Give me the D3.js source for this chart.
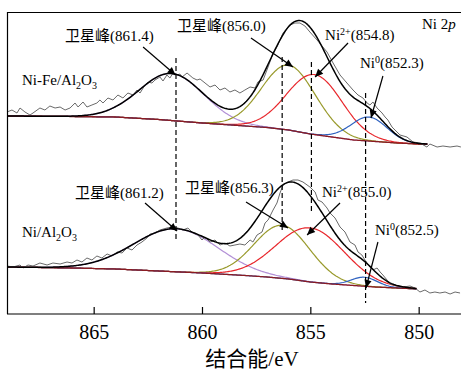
<!DOCTYPE html>
<html><head><meta charset="utf-8">
<script src="https://cdn.jsdelivr.net/npm/d3@7"></script>
<style>
body{margin:0;background:#fff;}
svg{display:block;font-family:"Liberation Serif","Times New Roman","Noto Sans CJK SC",serif;}
</style></head><body>
<svg id="c" width="461" height="372"></svg>
<script>
// ---------------- data ----------------
const xTicks = [865, 860, 855, 850];
const xLabel = "结合能/eV";

// Shirley backgrounds (energy eV, intensity a.u.)
const bgEnergy = [869, 866, 864, 862, 860, 858, 857, 856, 855, 854, 853, 852, 851, 850, 848];
const bgTop    = [198, 197.5, 197, 194.5, 191, 188, 186.5, 184, 180, 177, 174, 172.5, 171, 170, 169];
const bgBottom = [47, 46, 45, 43, 41, 38.5, 37, 35, 32, 30, 28.5, 27, 26, 25, 24];

// fitted components: satellite(high), satellite, Ni2+, Ni0
const centersTop    = [861.4, 856.0, 854.8, 852.3];
const heightsTop    = [47, 65, 60, 24];
const sigmasTop     = [1.49, 1.24, 1.27, 0.84];
const centersBottom = [861.2, 856.3, 855.0, 852.5];
const heightsBottom = [43, 53, 54, 9];
const sigmasBottom  = [1.94, 1.29, 1.57, 0.60];
const fitRangeTop    = [869, 849.6];
const fitRangeBottom = [869, 850.1];

// reference lines (energy, top intensity, bottom intensity)
const dashEnergy = [861.2, 856.3, 854.95, 852.45];
const dashFrom   = [256, 257, 252, 221];
const dashTo     = [72, 84, 101, 11];

// raw spectra [energy, intensity]
const rawTop = [[869.00,202],[868.77,204],[868.54,201],[868.40,206],[868.17,202],[867.94,199],[867.80,201],[867.48,206],[867.25,204],[867.02,208],[866.78,206],[866.55,207],[866.32,204],[866.09,206],[865.86,211],[865.72,207],[865.49,212],[865.31,207],[865.08,209],[864.85,211],[864.71,214],[864.57,211],[864.34,216],[864.11,214],[863.88,219],[863.65,216],[863.42,221],[863.18,219],[863.00,224],[862.86,221],[862.63,229],[862.49,232],[862.31,231],[862.17,234],[861.94,237],[861.80,233],[861.62,239],[861.48,236],[861.34,241],[861.15,239],[861.02,240],[860.92,237],[860.69,241],[860.42,236],[860.23,234],[860.09,235],[859.86,231],[859.63,227],[859.40,229],[859.17,224],[858.94,226],[858.71,222],[858.48,224],[858.25,221],[858.02,224],[857.78,227],[857.55,226],[857.42,232],[857.18,234],[856.95,247],[856.72,261],[856.54,267],[856.40,274],[856.26,281],[855.94,289],[855.71,291],[855.48,291],[855.25,288],[855.02,282],[854.69,274],[854.23,262],[853.95,251],[853.63,239],[853.31,231],[853.03,224],[852.80,219],[852.57,216],[852.38,211],[852.25,209],[852.11,212],[851.92,206],[851.69,201],[851.55,197],[851.42,194],[851.23,187],[850.86,179],[850.54,177],[850.26,172],[849.94,171],[849.62,167],[849.48,170],[849.15,167],[848.88,168],[848.55,167],[848.23,168],[848.05,167]];
const rawBottom = [[869.00,48],[868.72,47],[868.40,49],[868.26,46],[868.03,49],[867.80,48],[867.48,51],[867.15,49],[866.88,51],[866.55,50],[866.23,52],[866.00,51],[865.77,54],[865.54,52],[865.31,56],[865.08,54],[864.85,58],[864.62,56],[864.38,60],[864.15,58],[863.92,62],[863.69,61],[863.46,66],[863.23,64],[863.00,69],[862.77,72],[862.54,76],[862.40,80],[862.17,81],[861.94,84],[861.62,86],[861.34,87],[861.11,86],[860.88,84],[860.65,86],[860.42,81],[860.18,79],[860.00,74],[859.86,77],[859.63,72],[859.40,74],[859.17,69],[858.94,71],[858.71,68],[858.48,69],[858.25,70],[858.02,69],[857.78,74],[857.65,72],[857.46,79],[857.23,82],[857.09,91],[856.95,94],[856.72,104],[856.54,111],[856.40,121],[856.26,129],[856.03,132],[855.80,134],[855.57,134],[855.34,132],[855.02,127],[854.78,122],[854.65,114],[854.46,112],[854.23,106],[854.09,101],[853.86,96],[853.63,87],[853.40,82],[853.17,72],[852.94,69],[852.80,62],[852.62,59],[852.48,54],[852.25,47],[852.11,44],[851.92,46],[851.78,42],[851.65,39],[851.46,34],[851.32,30],[851.00,28],[850.72,27],[850.40,28],[850.17,26],[849.94,22],[849.71,24],[849.48,21],[849.25,22],[849.02,21],[848.78,22],[848.55,20],[848.32,22],[848.09,21]];

// annotations (label parts, label anchor [E,I], arrow from [E,I] to [E,I])
const annotations = [
  {parts:[["卫星峰(861.4)"]], at:[866.32,273], from:[862.72,267], to:[861.22,239]},
  {parts:[["卫星峰(856.0)"]], at:[861.15,283], from:[857.74,276], to:[855.80,247]},
  {parts:[["Ni"],["2+","sup"],["(854.8)"]], at:[854.32,274], from:[853.26,271], to:[854.78,237]},
  {parts:[["Ni"],["0","sup"],["(852.3)"]], at:[852.71,246], from:[851.65,238], to:[852.20,196]},
  {parts:[["卫星峰(861.2)"]], at:[865.86,116], from:[862.63,111], to:[861.15,83]},
  {parts:[["卫星峰(856.3)"]], at:[860.78,121], from:[857.97,112], to:[856.03,86]},
  {parts:[["Ni"],["2+","sup"],["(855.0)"]], at:[854.46,117], from:[853.63,111], to:[855.15,79]},
  {parts:[["Ni"],["0","sup"],["(852.5)"]], at:[852.02,79], from:[851.88,72], to:[852.43,26]},
  {parts:[["Ni-Fe/Al"],["2","sub"],["O"],["3","sub"]], at:[868.31,229]},
  {parts:[["Ni/Al"],["2","sub"],["O"],["3","sub"]], at:[868.31,77]},
  {parts:[["Ni 2"],["p","it"]], at:[849.85,285]}
];

// ---------------- drawing ----------------
const svg = d3.select("#c");
const x = d3.scaleLinear().domain([869, 848]).range([7, 462]);
const y = d3.scaleLinear().domain([0, 302]).range([314, 12]);
const compColors = ["#b28fd6", "#999a2c", "#e8262b", "#2f62c0"];

const defs = svg.append("defs");
defs.append("clipPath").attr("id","clip").append("rect")
  .attr("x",7).attr("y",12).attr("width",455).attr("height",302);
defs.append("marker").attr("id","ah").attr("viewBox","0 0 10 10")
  .attr("refX",10).attr("refY",5).attr("markerWidth",10).attr("markerHeight",8)
  .attr("markerUnits","userSpaceOnUse").attr("orient","auto")
  .append("path").attr("d","M0,0.5 L10,5 L0,9.5 Z").attr("fill","#000");

const plot = svg.append("g").attr("clip-path","url(#clip)");
const line = d3.line().x(d => x(d[0])).y(d => y(d[1]));

function gauss(E, c, h, s){ return h*Math.exp(-((E-c)*(E-c))/(2*s*s)); }

function drawPanel(bgI, centers, heights, sigmas, fitRange, raw){
  const bg = d3.scaleLinear().domain(bgEnergy.slice().reverse()).range(bgI.slice().reverse());
  const grid = [];
  for (let E = fitRange[0]; E >= fitRange[1] - 1e-9; E -= 0.05) grid.push(E);
  // components
  centers.forEach((c,i) => {
    plot.append("path")
      .datum(grid.map(E => [E, bg(E) + gauss(E, c, heights[i], sigmas[i])]))
      .attr("d", line).attr("fill","none").attr("stroke", compColors[i]).attr("stroke-width",1.2);
  });
  // background
  plot.append("path").datum(grid.map(E => [E, bg(E)]))
    .attr("d", line).attr("fill","none").attr("stroke","#8a1c22").attr("stroke-width",1.3);
  // raw
  plot.append("path").datum(raw)
    .attr("d", line).attr("fill","none").attr("stroke","#6a6a6a").attr("stroke-width",1);
  // envelope
  plot.append("path")
    .datum(grid.map(E => [E, bg(E) + d3.sum(centers, (c,i) => gauss(E, c, heights[i], sigmas[i]))]))
    .attr("d", line).attr("fill","none").attr("stroke","#000").attr("stroke-width",1.5);
}

drawPanel(bgTop, centersTop, heightsTop, sigmasTop, fitRangeTop, rawTop);
drawPanel(bgBottom, centersBottom, heightsBottom, sigmasBottom, fitRangeBottom, rawBottom);

// dashed reference lines
dashEnergy.forEach((E,i) => {
  plot.append("line")
    .attr("x1", x(E)).attr("x2", x(E)).attr("y1", y(dashFrom[i])).attr("y2", y(dashTo[i]))
    .attr("stroke","#000").attr("stroke-width",1.2).attr("stroke-dasharray","5,3");
});

// frame
svg.append("line").attr("x1",7).attr("x2",461).attr("y1",12.5).attr("y2",12.5).attr("stroke","#000").attr("stroke-width",1.2);
svg.append("line").attr("x1",7.5).attr("x2",7.5).attr("y1",12).attr("y2",314).attr("stroke","#000").attr("stroke-width",1.2);

// x axis
const ax = svg.append("g").attr("transform","translate(0,314)")
  .call(d3.axisBottom(x).tickValues(xTicks).tickSize(-7).tickPadding(11).tickFormat(d3.format("d")));
ax.select(".domain").attr("stroke","#000").attr("stroke-width",1.2).attr("d","M7,0H461");
ax.selectAll(".tick line").attr("stroke","#000").attr("stroke-width",1.2);
ax.selectAll(".tick text").attr("font-size",20).attr("font-family","Liberation Serif, serif").attr("fill","#000");

svg.append("text").attr("x",252).attr("y",366).attr("text-anchor","middle")
  .attr("font-size",21).attr("fill","#000").text(xLabel);

// annotations
annotations.forEach(a => {
  const t = svg.append("text").attr("x", x(a.at[0])).attr("y", y(a.at[1]))
    .attr("font-size",15).attr("fill","#000");
  let shift = 0;
  a.parts.forEach(p => {
    const ts = t.append("tspan").text(p[0]);
    let target = 0;
    if (p[1] === "sup") { target = -5; ts.attr("font-size",10); }
    else if (p[1] === "sub") { target = 4; ts.attr("font-size",10); }
    else if (p[1] === "it") { ts.attr("font-style","italic"); }
    ts.attr("dy", target - shift);
    shift = target;
  });
  if (a.from) {
    svg.append("line")
      .attr("x1", x(a.from[0])).attr("y1", y(a.from[1]))
      .attr("x2", x(a.to[0])).attr("y2", y(a.to[1]))
      .attr("stroke","#000").attr("stroke-width",1.2).attr("marker-end","url(#ah)");
  }
});
</script>
</body></html>
